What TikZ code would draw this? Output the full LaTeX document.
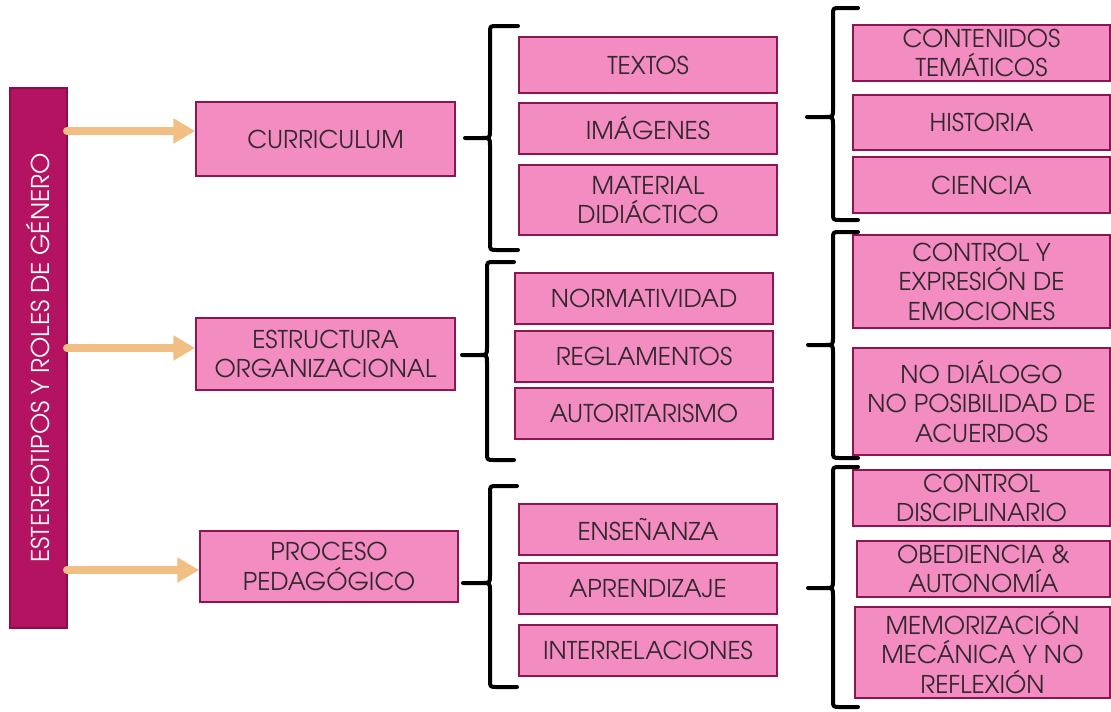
\documentclass[tikz,border=0pt]{standalone}
\usepackage{fontspec}
\setmainfont{TeX Gyre Adventor}
\usetikzlibrary{arrows.meta}
\definecolor{boxfill}{HTML}{F38DC1}
\definecolor{boxline}{HTML}{8C1652}
\definecolor{barfill}{HTML}{B31361}
\definecolor{barline}{HTML}{8A0E48}
\definecolor{arrowc}{HTML}{F1BE84}
\definecolor{txt}{HTML}{33282E}
\newcommand\mybrace[6]{%
\draw[bracestyle] (#3,#4) -- (#2+7,#4) .. controls (#2,#4) .. (#2,#4+7) -- (#2,#5-8) .. controls (#2,#5) .. (#2-8,#5) -- (#1,#5) -- (#2-8,#5) .. controls (#2,#5) .. (#2,#5+8) -- (#2,#6-7) .. controls (#2,#6) .. (#2+7,#6) -- (#3,#6);}
\begin{document}
\begin{tikzpicture}[x=1pt,y=-1pt,
  pbox/.style={draw=boxline,line width=1.5pt,fill=boxfill,text=txt,align=center,
    font=\fontsize{24.5}{29.5}\selectfont,inner sep=0pt},
  bar/.style={draw=barline,line width=1.5pt,fill=barfill,text=white,
    font=\fontsize{24.5}{29.5}\selectfont,inner sep=0pt},
  arr/.style={draw=arrowc,line width=8pt,line cap=round,
    -{Triangle[length=22pt,width=24pt]}},
  bracestyle/.style={draw=black,line width=4pt,line join=round,line cap=round}]
\useasboundingbox (0,0) rectangle (1111,712);
% left bar
\node[bar,rotate=90,minimum width=540pt,minimum height=57pt] (bar) at (38.5,358)
  {ESTEREOTIPOS Y ROLES DE GÉNERO};
% level 1
\node[pbox,minimum width=259pt,minimum height=74pt] (cur) at (325.5,139) {CURRICULUM};
\node[pbox,minimum width=259pt,minimum height=72pt] (est) at (325.5,354) {ESTRUCTURA\\ORGANIZACIONAL};
\node[pbox,minimum width=258pt,minimum height=71pt] (pro) at (329,566.5) {PROCESO\\PEDAGÓGICO};
% arrows
\coordinate (a1) at (67,131);
\coordinate (a2) at (67,348);
\coordinate (a3) at (67,570);
\draw[arr] (a1) -- (cur.west |- a1);
\draw[arr] (a2) -- (est.west |- a2);
\draw[arr] (a3) -- (pro.west |- a3);
% level 2
\node[pbox,minimum width=258pt,minimum height=56pt] (tex) at (648,65) {TEXTOS};
\node[pbox,minimum width=258pt,minimum height=51pt] (ima) at (648,128.5) {IMÁGENES};
\node[pbox,minimum width=258pt,minimum height=70pt] (mat) at (648,200) {MATERIAL\\DIDIÁCTICO};
\node[pbox,minimum width=258pt,minimum height=51pt] (nor) at (644,298.5) {NORMATIVIDAD};
\node[pbox,minimum width=258pt,minimum height=51pt] (reg) at (644,356.5) {REGLAMENTOS};
\node[pbox,minimum width=258pt,minimum height=51pt] (aut) at (644,413.5) {AUTORITARISMO};
\node[pbox,minimum width=258pt,minimum height=51pt] (ens) at (648,529.5) {ENSEÑANZA};
\node[pbox,minimum width=258pt,minimum height=51pt] (apr) at (648,588.5) {APRENDIZAJE};
\node[pbox,minimum width=258pt,minimum height=51pt] (int) at (648,650.5) {INTERRELACIONES};
% level 3
\node[pbox,minimum width=257pt,minimum height=56pt] (con) at (981.5,53) {CONTENIDOS\\TEMÁTICOS};
\node[pbox,minimum width=257pt,minimum height=55pt] (his) at (981.5,122.5) {HISTORIA};
\node[pbox,minimum width=257pt,minimum height=56pt] (cie) at (981.5,185) {CIENCIA};
\node[pbox,minimum width=257pt,minimum height=93pt] (cye) at (981.5,281.5) {CONTROL Y\\EXPRESIÓN DE\\EMOCIONES};
\node[pbox,minimum width=257pt,minimum height=107pt] (nod) at (981.5,401.5) {NO DIÁLOGO\\NO POSIBILIDAD DE\\ACUERDOS};
\node[pbox,minimum width=257pt,minimum height=56pt] (cdi) at (981.5,498) {CONTROL\\DISCIPLINARIO};
\node[pbox,minimum width=253pt,minimum height=56pt] (obe) at (983.5,569) {OBEDIENCIA \&\\AUTONOMÍA};
\node[pbox,minimum width=255pt,minimum height=91pt] (mem) at (982.5,652.5) {MEMORIZACIÓN\\MECÁNICA Y NO\\REFLEXIÓN};
% braces
\mybrace{465}{490}{518}{26}{138}{250}
\mybrace{462}{487}{514}{262}{355}{460}
\mybrace{463}{490}{517}{486}{583}{687}
\mybrace{807}{833}{858}{8}{117}{220}
\mybrace{808}{833}{858}{232}{345}{458}
\mybrace{808}{833}{858}{467}{588}{707}
\end{tikzpicture}
\end{document}
